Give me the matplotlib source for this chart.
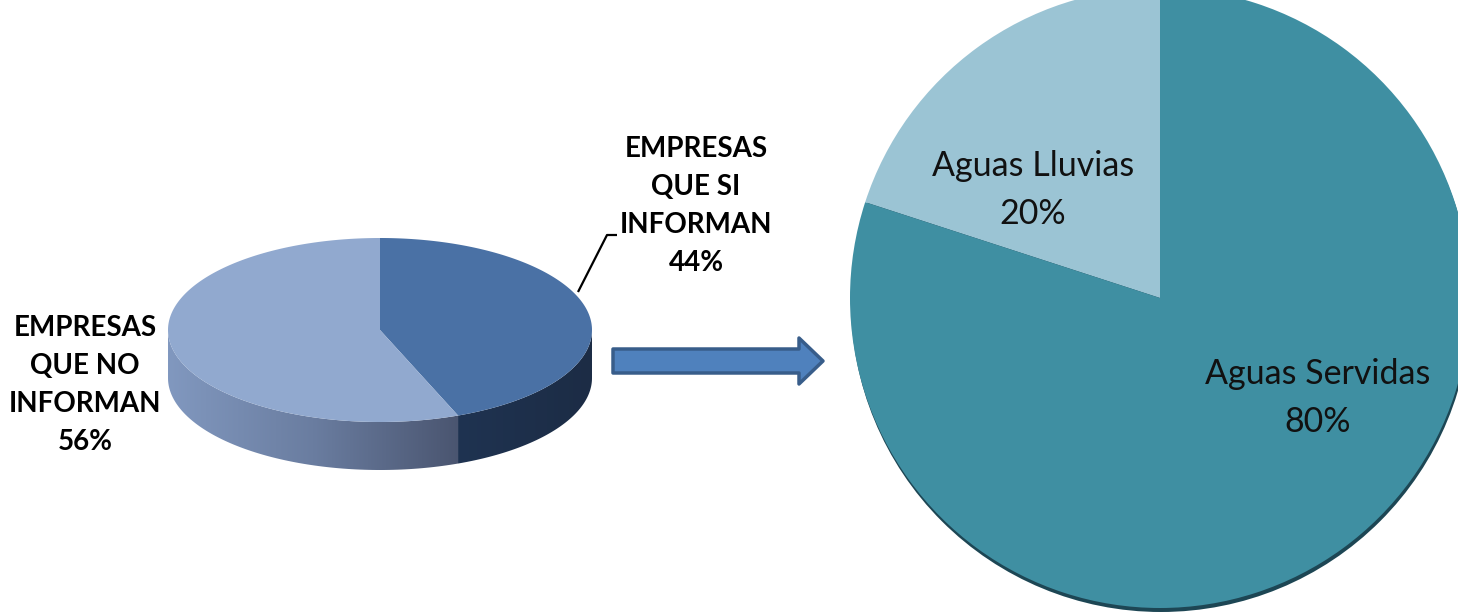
import numpy as np
import matplotlib.pyplot as plt
import matplotlib.patches as mpatches
from matplotlib.colors import LinearSegmentedColormap

# left chart: companies that report / do not report
left_labels = ['EMPRESAS\nQUE SI\nINFORMAN', 'EMPRESAS\nQUE NO\nINFORMAN']
left_shares = [44, 56]

# right chart: type of water among the companies that report
right_labels = ['Aguas Lluvias', 'Aguas Servidas']
right_shares = [20, 80]

W, H = 1458, 616
fig = plt.figure(figsize=(14.58, 6.16), dpi=100)
ax = fig.add_axes([0, 0, 1, 1])
ax.set_xlim(0, W)
ax.set_ylim(0, H)
ax.axis('off')

# ---- left: 3D-looking pie (ellipse + side) ----
cx, cy = 380, H - 330
a, b, depth = 212, 92, 48
top_colors = ['#4a71a5', '#91a9cf']
side_cmaps = [LinearSegmentedColormap.from_list('d', ['#1f3351', '#1c2c45']),
              LinearSegmentedColormap.from_list('l', ['#8198bf', '#6a7da0', '#4a5570'])]


def ell(t):
    t = np.radians(t)
    return cx + a * np.cos(t), cy + b * np.sin(t)


fracs = np.array(left_shares) / sum(left_shares)
bounds = 90 - 360 * np.concatenate([[0], np.cumsum(fracs)])

for k in range(len(fracs)):
    t_hi, t_lo = bounds[k], bounds[k + 1]
    lo, hi = max(t_lo, -180), min(t_hi, 0)
    if lo < hi:
        t = np.linspace(lo, hi, 100)
        x, y = ell(t)
        xs = np.concatenate([x, x[::-1]])
        ys = np.concatenate([y, y[::-1] - depth])
        poly = mpatches.Polygon(np.column_stack([xs, ys]), closed=True,
                                facecolor='none', edgecolor='none')
        ax.add_patch(poly)
        grad = np.linspace(0, 1, 256).reshape(1, -1)
        im = ax.imshow(grad, cmap=side_cmaps[k], aspect='auto',
                       extent=[xs.min(), xs.max(), ys.min(), ys.max()],
                       zorder=1)
        im.set_clip_path(poly)

for k in range(len(fracs)):
    t = np.linspace(bounds[k], bounds[k + 1], 200)
    x, y = ell(t)
    pts = np.column_stack([np.r_[cx, x], np.r_[cy, y]])
    ax.add_patch(mpatches.Polygon(pts, closed=True, facecolor=top_colors[k],
                                  edgecolor='none', zorder=2))

lab_font = dict(family=['Lato', 'DejaVu Sans'], fontweight='bold',
                fontsize=20, ha='center', va='center', linespacing=1.58)
ax.text(696, H - 206, f'{left_labels[0]}\n{left_shares[0]}%', **lab_font)
ax.text(85, H - 385, f'{left_labels[1]}\n{left_shares[1]}%', **lab_font)
ax.plot([578, 607, 617], [H - 292, H - 235, H - 235], color='black', lw=1.6,
        solid_capstyle='butt', zorder=3)

# ---- arrow ----
ax.add_patch(mpatches.FancyArrow(613, H - 361, 186, 0, width=24,
                                 head_width=46, head_length=24,
                                 length_includes_head=False,
                                 facecolor='#4f81bd', edgecolor='#385d8a',
                                 lw=2.5, joinstyle='round', zorder=3))

# ---- right: pie ----
pc = (1160, H - 298)
R = 310
ax.add_patch(mpatches.Circle((pc[0] + 1, pc[1] - 4), R, facecolor='#1d4654',
                             edgecolor='none', zorder=1))
wedges, _ = ax.pie(right_shares, center=pc, radius=R, startangle=90,
                   counterclock=True, colors=['#9bc4d4', '#3f8fa2'],
                   wedgeprops=dict(edgecolor='none', zorder=2))
ax.set_xlim(0, W)
ax.set_ylim(0, H)
ax.set_aspect('auto')
ax.axis('off')

pie_font = dict(family=['Lato', 'DejaVu Sans'], fontsize=24.5, ha='center',
                va='center', linespacing=1.62, color='#111111')
ax.text(1033, H - 190, f'{right_labels[0]}\n{right_shares[0]}%', **pie_font)
ax.text(1318, H - 398, f'{right_labels[1]}\n{right_shares[1]}%', **pie_font)

fig.savefig('out.png', dpi=100)
